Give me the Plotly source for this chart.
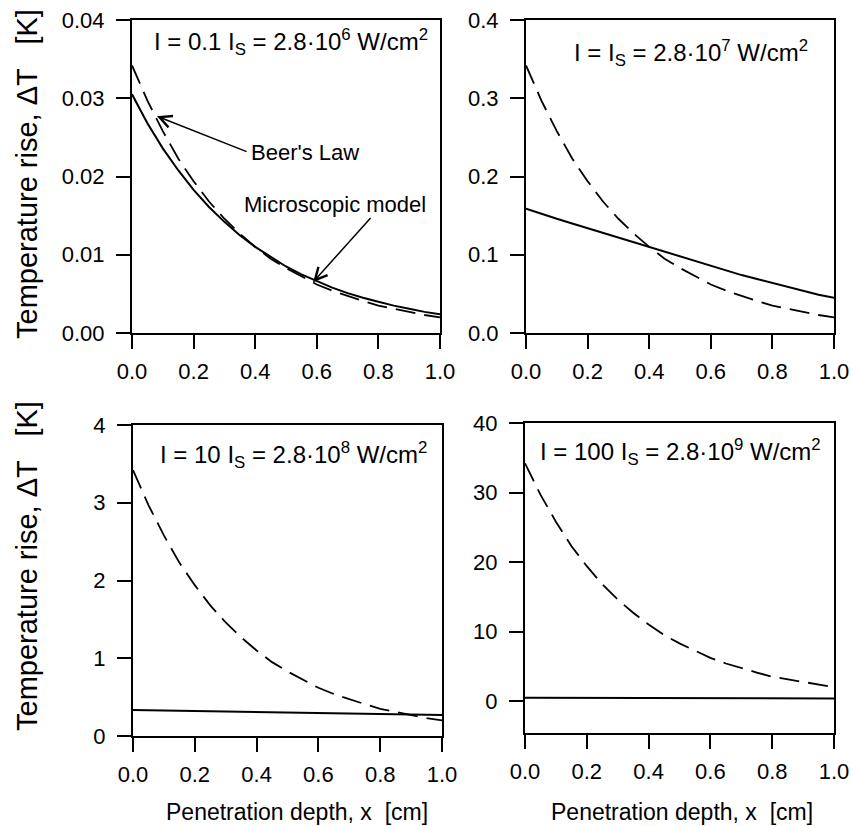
import plotly.graph_objects as go

W, H = 853, 826

# ---------------- data ----------------
depth = [0.0, 0.05, 0.10, 0.15, 0.20, 0.25, 0.30, 0.35, 0.40, 0.45, 0.50,
         0.55, 0.60, 0.65, 0.70, 0.75, 0.80, 0.85, 0.90, 0.95, 1.0]

# I = 0.1 Is
beer_01 = [0.0342, 0.0297, 0.0258, 0.0223, 0.0194, 0.0168, 0.0146, 0.0127, 0.0110, 0.0095, 0.0083,
           0.0072, 0.0062, 0.0054, 0.0047, 0.0041, 0.0035, 0.0031, 0.0027, 0.0023, 0.0020]
micro_01 = [0.0305, 0.0268, 0.0236, 0.0208, 0.0183, 0.0161, 0.0142, 0.0125, 0.0110, 0.0097, 0.0085,
            0.0075, 0.0066, 0.0058, 0.0051, 0.0045, 0.0040, 0.0035, 0.0031, 0.0027, 0.0024]
# I = Is
beer_1 = [0.342, 0.297, 0.258, 0.223, 0.194, 0.168, 0.146, 0.127, 0.110, 0.095, 0.083,
          0.072, 0.062, 0.054, 0.047, 0.041, 0.035, 0.031, 0.027, 0.023, 0.020]
micro_1 = [0.159, 0.152, 0.146, 0.140, 0.134, 0.128, 0.122, 0.116, 0.110, 0.104, 0.098,
           0.092, 0.086, 0.080, 0.074, 0.069, 0.064, 0.059, 0.054, 0.049, 0.045]
# I = 10 Is
beer_10 = [3.42, 2.97, 2.58, 2.23, 1.94, 1.68, 1.46, 1.27, 1.10, 0.95, 0.83,
           0.72, 0.62, 0.54, 0.47, 0.41, 0.35, 0.31, 0.27, 0.23, 0.20]
micro_10 = [0.335, 0.332, 0.328, 0.325, 0.322, 0.319, 0.315, 0.312, 0.309, 0.306, 0.302,
            0.299, 0.296, 0.293, 0.289, 0.286, 0.283, 0.280, 0.276, 0.273, 0.270]
# I = 100 Is
beer_100 = [34.2, 29.7, 25.8, 22.3, 19.4, 16.8, 14.6, 12.7, 11.0, 9.5, 8.3,
            7.2, 6.2, 5.4, 4.7, 4.1, 3.5, 3.1, 2.7, 2.3, 2.0]
micro_100 = [0.46, 0.46, 0.45, 0.45, 0.44, 0.44, 0.43, 0.43, 0.42, 0.42, 0.41,
             0.41, 0.41, 0.40, 0.40, 0.40, 0.39, 0.39, 0.39, 0.38, 0.38]

panel_titles = [
    "I = 0.1 I<sub>S</sub> = 2.8·10<sup>6</sup> W/cm<sup>2</sup>",
    "I = I<sub>S</sub> = 2.8·10<sup>7</sup> W/cm<sup>2</sup>",
    "I = 10 I<sub>S</sub> = 2.8·10<sup>8</sup> W/cm<sup>2</sup>",
    "I = 100 I<sub>S</sub> = 2.8·10<sup>9</sup> W/cm<sup>2</sup>",
]
y_ranges = [[0, 0.04], [0, 0.4], [0, 4], [-4.6, 40]]
y_tickvals = [[0, 0.01, 0.02, 0.03, 0.04], [0, 0.1, 0.2, 0.3, 0.4], [0, 1, 2, 3, 4], [0, 10, 20, 30, 40]]
y_ticktext = [["0.00", "0.01", "0.02", "0.03", "0.04"], ["0.0", "0.1", "0.2", "0.3", "0.4"],
              ["0", "1", "2", "3", "4"], ["0", "10", "20", "30", "40"]]
x_tickvals = [0, 0.2, 0.4, 0.6, 0.8, 1.0]
x_ticktext = ["0.0", "0.2", "0.4", "0.6", "0.8", "1.0"]
y_title = "Temperature rise, ΔT   [K]"
x_title = "Penetration depth, x  [cm]"

beer_series = [beer_01, beer_1, beer_10, beer_100]
micro_series = [micro_01, micro_1, micro_10, micro_100]

# ---------------- layout geometry (pixels) ----------------
boxes = [  # left, right, top, bottom
    (132, 440, 20, 333),
    (526, 834, 20, 333),
    (133, 442, 425, 736),
    (525, 834, 423, 733),
]

def px(x):
    return x / W

def py(y):
    return 1 - y / H

FONT = "Liberation Sans, Arial, Helvetica, sans-serif"
fig = go.Figure()
layout = dict(
    template="none",
    width=W, height=H, margin=dict(l=0, r=0, t=0, b=0, pad=0, autoexpand=False),
    paper_bgcolor="white", plot_bgcolor="white", showlegend=False,
    font=dict(family=FONT, color="black", size=22),
)

for i in range(4):
    xa = "x" if i == 0 else f"x{i+1}"
    ya = "y" if i == 0 else f"y{i+1}"
    fig.add_trace(go.Scatter(x=depth, y=micro_series[i], mode="lines", xaxis=xa, yaxis=ya,
                             line=dict(color="black", width=2), hoverinfo="skip"))
    fig.add_trace(go.Scatter(x=depth, y=beer_series[i], mode="lines", xaxis=xa, yaxis=ya,
                             line=dict(color="black", width=1.8, dash="20px,9px"), hoverinfo="skip"))
    l, r, t, b = boxes[i]
    axcommon = dict(showline=True, linecolor="black", linewidth=2, mirror=True,
                    ticks="outside", tickcolor="black", tickwidth=2, ticklen=14, automargin=False,
                    showgrid=False, zeroline=False, tickfont=dict(size=22, family=FONT))
    xkey = "xaxis" if i == 0 else f"xaxis{i+1}"
    ykey = "yaxis" if i == 0 else f"yaxis{i+1}"
    layout[xkey] = dict(domain=[px(l), px(r)], range=[0, 1], anchor=ya,
                        tickvals=x_tickvals, ticktext=x_ticktext,
                        ticklabelstandoff=4, **axcommon)
    layout[ykey] = dict(domain=[py(b), py(t)], range=y_ranges[i], anchor=xa,
                        tickvals=y_tickvals[i], ticktext=y_ticktext[i],
                        ticklabelstandoff=7, **axcommon)

annotations = []
title_pos = [(291, 42), (691, 53), (293, 455), (680, 452)]
for i, (cx, cy) in enumerate(title_pos):
    annotations.append(dict(text=panel_titles[i], x=px(cx), y=py(cy), xref="paper", yref="paper",
                            xanchor="center", yanchor="middle", showarrow=False,
                            font=dict(size=24, family=FONT)))
for cy in (174, 566):
    annotations.append(dict(text=y_title, x=px(27), y=py(cy), xref="paper", yref="paper",
                            xanchor="center", yanchor="middle", textangle=-90, showarrow=False,
                            font=dict(size=29, family=FONT)))
for cx in (297, 682):
    annotations.append(dict(text=x_title, x=px(cx), y=py(812), xref="paper", yref="paper",
                            xanchor="center", yanchor="middle", showarrow=False,
                            font=dict(size=23, family=FONT)))

# callouts in the first panel
annotations.append(dict(text="", x=0.081, y=0.0277, ax=0.377, ay=0.0231, xref="x", yref="y",
                        axref="x", ayref="y", showarrow=True, arrowhead=5, arrowsize=1.6,
                        arrowwidth=1.5, arrowcolor="black"))
annotations.append(dict(text="Beer's Law", x=0.381, y=0.0231, xref="x", yref="y",
                        xanchor="left", yanchor="middle", showarrow=False,
                        font=dict(size=22, family=FONT)))
annotations.append(dict(text="", x=0.588, y=0.0065, ax=0.779, ay=0.0149, xref="x", yref="y",
                        axref="x", ayref="y", showarrow=True, arrowhead=5, arrowsize=1.6,
                        arrowwidth=1.5, arrowcolor="black"))
annotations.append(dict(text="Microscopic model", x=0.659, y=0.0164, xref="x", yref="y",
                        xanchor="center", yanchor="middle", showarrow=False,
                        font=dict(size=22, family=FONT)))

layout["annotations"] = annotations
fig.update_layout(**layout)
fig.write_html("out.html")
